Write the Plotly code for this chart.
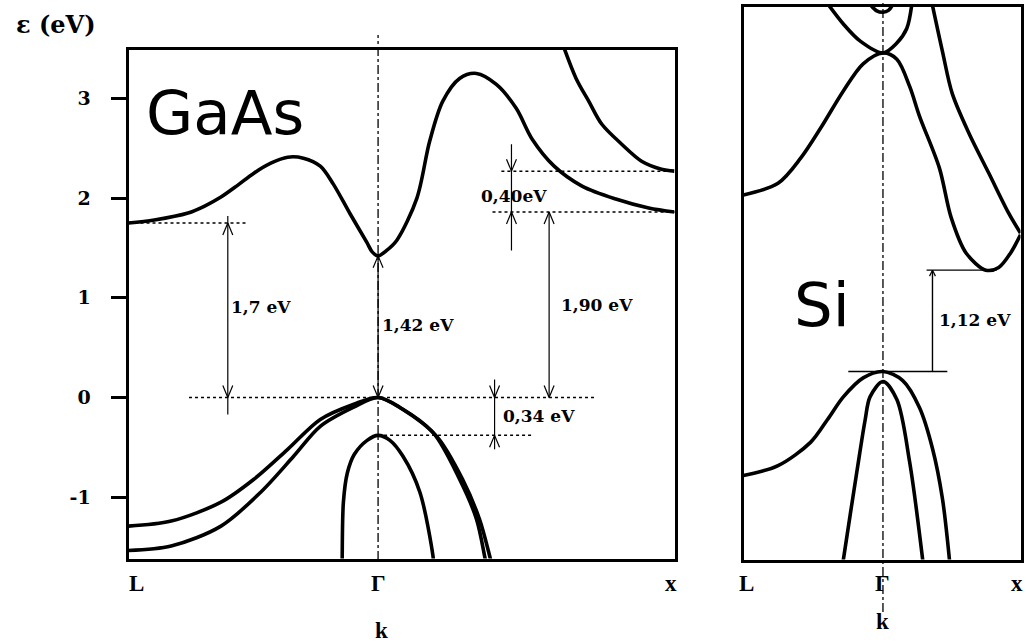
import plotly.graph_objects as go

# ---------------- DATA (k: L=-0.842, Gamma=0, X=1 for GaAs; energies in eV) ----------------
gaas_cb1_k = [-0.842, -0.755, -0.641, -0.585, -0.530, -0.473, -0.419, -0.362, -0.305, -0.252, -0.195, -0.151, -0.094,
              -0.037, -0.020, 0.0, 0.027, 0.064, 0.131, 0.174, 0.218, 0.275, 0.332, 0.399, 0.466, 0.520, 0.594,
              0.688, 0.802, 0.913, 1.0]
gaas_cb1_e = [1.75, 1.78, 1.85, 1.92, 2.01, 2.13, 2.25, 2.35, 2.41, 2.40, 2.32, 2.14, 1.84,
              1.55, 1.46, 1.42, 1.47, 1.58, 2.00, 2.57, 2.97, 3.20, 3.25, 3.14, 2.90, 2.59, 2.32,
              2.12, 1.99, 1.90, 1.86]
gaas_cb2_k = [0.622, 0.668, 0.711, 0.755, 0.822, 0.889, 0.956, 1.0]
gaas_cb2_e = [3.55, 3.20, 2.97, 2.74, 2.54, 2.37, 2.29, 2.27]
gaas_hh_k = [-0.842, -0.698, -0.530, -0.419, -0.305, -0.195, -0.084, 0.0, 0.084, 0.198, 0.285, 0.342, 0.376, 0.382]
gaas_hh_e = [-1.29, -1.24, -1.05, -0.82, -0.52, -0.22, -0.07, 0.0, -0.12, -0.39, -0.82, -1.22, -1.585, -1.66]
gaas_lh_k = [-0.842, -0.698, -0.530, -0.396, -0.285, -0.195, -0.084, 0.0, 0.074, 0.185, 0.275, 0.332, 0.359, 0.364]
gaas_lh_e = [-1.535, -1.49, -1.29, -0.95, -0.59, -0.29, -0.10, 0.0, -0.10, -0.35, -0.82, -1.22, -1.585, -1.66]
gaas_so_k = [-0.121, -0.121, -0.117, -0.104, -0.080, -0.037, 0.0, 0.040, 0.084, 0.141, 0.185, 0.187]
gaas_so_e = [-1.66, -1.585, -1.05, -0.76, -0.57, -0.43, -0.38, -0.43, -0.59, -0.95, -1.585, -1.66]

# GaAs gap markers (eV)
gaas_E_L = 1.75
gaas_E_G = 1.42
gaas_E_X = 1.86
gaas_E_X2 = 2.27
gaas_E_SO = -0.38
gaas_labels = ["1,7 eV", "1,42 eV", "1,90 eV", "0,34 eV", "0,40eV"]

# Si (k: L=-1.014, Gamma=0, X=1)
si_vb1_k = [-1.014, -0.763, -0.525, -0.403, -0.288, -0.144, 0.0, 0.144, 0.266, 0.360, 0.432, 0.486]
si_vb1_e = [-1.15, -1.04, -0.78, -0.53, -0.28, -0.07, 0.0, -0.10, -0.40, -0.85, -1.40, -2.12]
si_vb2_k = [-0.292, -0.237, -0.187, -0.129, -0.094, 0.0, 0.101, 0.194, 0.292]
si_vb2_e = [-2.12, -1.57, -1.08, -0.53, -0.28, -0.11, -0.31, -1.00, -2.12]
si_cbA_k = [-1.014, -0.763, -0.597, -0.453, -0.288, -0.144, 0.0, 0.101, 0.194, 0.266, 0.410, 0.496,
            0.604, 0.748, 0.842, 0.928, 1.0]
si_cbA_e = [1.95, 2.08, 2.36, 2.69, 3.10, 3.40, 3.52, 3.45, 3.15, 2.82, 2.25, 1.70,
            1.31, 1.12, 1.15, 1.31, 1.51]
si_cbB_k = [0.355, 0.432, 0.504, 0.626, 0.770, 0.914, 1.0]
si_cbB_e = [4.08, 3.54, 3.07, 2.63, 2.19, 1.75, 1.53]
si_cbC_k = [-0.410, -0.288, -0.165, 0.0, 0.101, 0.173, 0.212]
si_cbC_e = [4.08, 3.84, 3.65, 3.52, 3.63, 3.79, 4.08]
si_cbD_k = [-0.09, -0.045, 0.0, 0.04, 0.07]
si_cbD_e = [4.05, 3.985, 3.97, 3.99, 4.05]
si_Eg = 1.12
si_label = "1,12 eV"

k_ticks = ["L", "Γ", "x"]
e_tickvals = [-1, 0, 1, 2, 3]
e_ticktext = ["-1", "0", "1", "2", "3"]

# ---------------- LAYOUT GEOMETRY ----------------
W, H = 1026, 642
def px(x): return x / W
def py(y): return 1 - y / H

G_K = [-0.842, 1.0]; G_E = [-1.615, 3.490]
S_K = [-1.014, 1.0]; S_E = [-2.077, 4.033]
g_kpx, g_epx = 298.0, 100.3
s_kpx, s_epx = 139.0, 91.0
inset = 1.5

fig = go.Figure()
band = dict(color="black", width=3.6, shape="spline", smoothing=0.9)

for kk, ee in [(gaas_cb1_k, gaas_cb1_e), (gaas_cb2_k, gaas_cb2_e), (gaas_hh_k, gaas_hh_e),
               (gaas_lh_k, gaas_lh_e), (gaas_so_k, gaas_so_e)]:
    fig.add_trace(go.Scatter(x=kk, y=ee, mode="lines", line=band, xaxis="x", yaxis="y",
                             showlegend=False, hoverinfo="skip"))
for kk, ee in [(si_vb1_k, si_vb1_e), (si_vb2_k, si_vb2_e), (si_cbA_k, si_cbA_e),
               (si_cbB_k, si_cbB_e), (si_cbC_k, si_cbC_e), (si_cbD_k, si_cbD_e)]:
    fig.add_trace(go.Scatter(x=kk, y=ee, mode="lines", line=band, xaxis="x2", yaxis="y2",
                             showlegend=False, hoverinfo="skip"))

shapes = []
def line(xr, yr, x0, y0, x1, y1, dash="solid", w=1.2):
    shapes.append(dict(type="line", xref=xr, yref=yr, x0=x0, y0=y0, x1=x1, y1=y1,
                       line=dict(color="black", width=w, dash=dash)))

def head(xr, yr, k, e, up, kpx, epx, hw=5, hl=12):
    d = -1 if up else 1
    dk = hw / kpx; de = hl / epx * d
    line(xr, yr, k - dk, e + de, k, e)
    line(xr, yr, k + dk, e + de, k, e)

# GaAs dotted levels
line("x", "y", G_K[0], gaas_E_L, -0.44, gaas_E_L, "dot", 1.5)
line("x", "y", -0.638, 0, 0.735, 0, "dot", 1.5)
line("x", "y", 0, gaas_E_SO, 0.517, gaas_E_SO, "dot", 1.5)
line("x", "y", 0.416, gaas_E_X2, 1.0, gaas_E_X2, "dot", 1.5)
line("x", "y", 0.386, gaas_E_X, 1.037, gaas_E_X, "dot", 1.5)

# GaAs arrows
kL = -0.507
line("x", "y", kL, gaas_E_L + 0.07, kL, -0.17); head("x", "y", kL, gaas_E_L, True, g_kpx, g_epx); head("x", "y", kL, 0, False, g_kpx, g_epx)
line("x", "y", 0, gaas_E_G, 0, 0); head("x", "y", 0, gaas_E_G, True, g_kpx, g_epx); head("x", "y", 0, 0, False, g_kpx, g_epx)
kX = 0.577
line("x", "y", kX, gaas_E_X, kX, 0); head("x", "y", kX, gaas_E_X, True, g_kpx, g_epx); head("x", "y", kX, 0, False, g_kpx, g_epx)
k4 = 0.450
line("x", "y", k4, 2.54, k4, 1.475); head("x", "y", k4, gaas_E_X2, False, g_kpx, g_epx); head("x", "y", k4, gaas_E_X, True, g_kpx, g_epx)
k3 = 0.393
line("x", "y", k3, 0.18, k3, -0.52); head("x", "y", k3, 0, False, g_kpx, g_epx); head("x", "y", k3, gaas_E_SO, True, g_kpx, g_epx)

# Gamma dash-dot verticals
shapes.append(dict(type="line", xref="x", yref="paper", x0=0, x1=0, y0=py(560), y1=py(35),
                   line=dict(color="black", width=1.3, dash="dashdot")))
shapes.append(dict(type="line", xref="x2", yref="paper", x0=0, x1=0, y0=py(612), y1=py(0),
                   line=dict(color="black", width=1.3, dash="dashdot")))

# Si gap marker
line("x2", "y2", -0.252, 0, 0.468, 0, "solid", 1.4)
line("x2", "y2", 0.36, 0, 0.36, si_Eg, "solid", 1.4)
head("x2", "y2", 0.36, si_Eg, True, s_kpx, s_epx, hw=3, hl=6)
line("x2", "y2", 0.317, si_Eg, 0.827, si_Eg, "solid", 1.4)

serif = "DejaVu Serif"
ann = []
def text(t, x, y, xr, yr, size=17, fam=serif, xa="left", weight="bold"):
    ann.append(dict(text=t, x=x, y=y, xref=xr, yref=yr, showarrow=False, xanchor=xa, yanchor="middle",
                    font=dict(family=fam, size=size, color="black", weight=weight)))

text(gaas_labels[0], -0.503, 0.907, "x", "y")
text(gaas_labels[1], 0.007, 0.728, "x", "y")
text(gaas_labels[2], 0.611, 0.927, "x", "y")
text(gaas_labels[3], 0.416, -0.19, "x", "y")
text(gaas_labels[4], 0.342, 2.024, "x", "y")
text(si_label, 0.396, 0.571, "x2", "y2")
text("GaAs", -0.79, 2.86, "x", "y", size=61, fam="DejaVu Sans", weight="normal")
text("Si", -0.66, 0.74, "x2", "y2", size=61, fam="DejaVu Sans", weight="normal")
text("ε (eV)", px(56), py(25), "paper", "paper", size=24, xa="center")

lab = "Liberation Serif"
for kk, t in zip([-0.815, 0, 0.987], k_ticks):
    text(t, kk, py(583), "x", "paper", size=23, fam=lab, xa="center")
for kk, t in zip([-0.99, 0, 0.971], k_ticks):
    text(t, kk, py(583), "x2", "paper", size=23, fam=lab, xa="center")
text("k", 0.01, py(630), "x", "paper", size=23, fam=lab, xa="center")
text("k", 0.0, py(621), "x2", "paper", size=23, fam=lab, xa="center")

frame = dict(showline=True, linecolor="black", linewidth=3, mirror=True, showgrid=False, zeroline=False)
fig.update_layout(
    width=W, height=H, margin=dict(l=0, r=0, t=0, b=0),
    paper_bgcolor="white", plot_bgcolor="white", showlegend=False,
    xaxis=dict(domain=[px(127 + inset), px(676 - inset)], range=G_K, showticklabels=False, ticks="", anchor="y", **frame),
    yaxis=dict(domain=[py(560 - inset), py(48 + inset)], range=G_E, anchor="x", tickvals=e_tickvals, ticktext=e_ticktext,
               ticks="outside", ticklen=15, tickwidth=3, tickcolor="black", ticklabelstandoff=16,
               tickfont=dict(family=serif, size=19, color="black", weight="bold"), **frame),
    xaxis2=dict(domain=[px(742 + inset), px(1022 - inset)], range=S_K, showticklabels=False, ticks="", anchor="y2", **frame),
    yaxis2=dict(domain=[py(561 - inset), py(5 + inset)], range=S_E, showticklabels=False, ticks="", anchor="x2", **frame),
    shapes=shapes, annotations=ann,
)
fig.write_html("out.html", config={"displayModeBar": False},
               post_script="document.body.style.margin='0px';")
